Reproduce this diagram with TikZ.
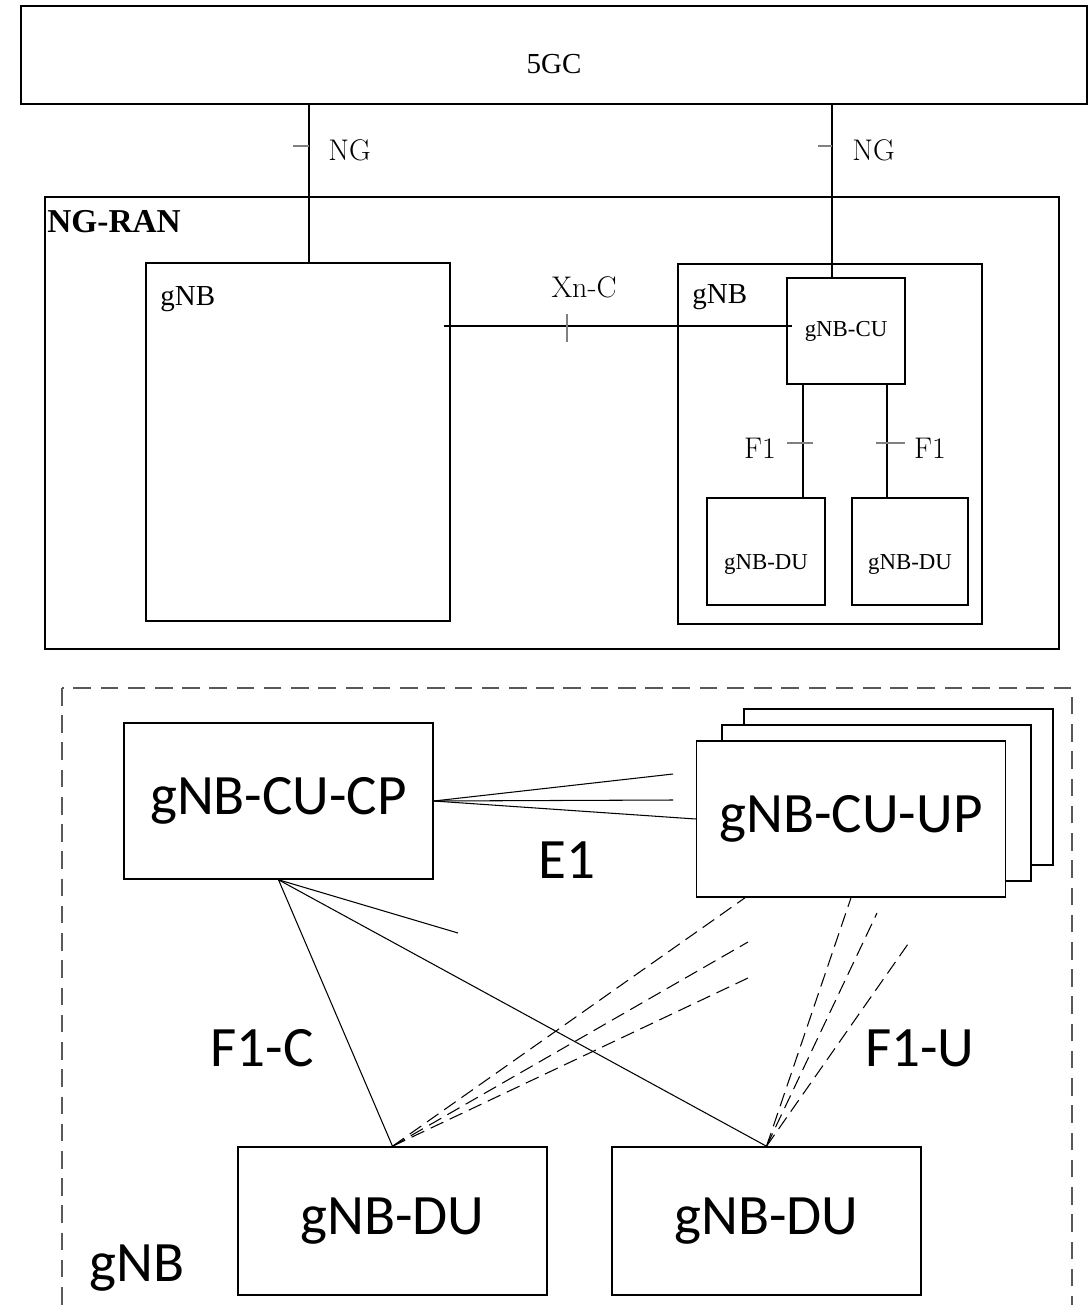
\documentclass[tikz,border=0pt]{standalone}
\usepackage{fontspec}
\newfontfamily\timesfont{Liberation Serif}
\newfontfamily\calibfont{Carlito}
\usetikzlibrary{positioning}

\begin{document}
\begin{tikzpicture}[x=0.02cm,y=-0.02cm,
        netbox/.style={draw,line width=0.9pt,fill=white,inner sep=0pt},
        serif/.style={font=\timesfont\fontsize{16.5}{18}\selectfont},
        small/.style={font=\timesfont\fontsize{13}{15}\selectfont},
        cmlabel/.style={inner sep=0pt,font=\fontsize{17}{19}\selectfont},
        big/.style={font=\calibfont\fontsize{32.5}{36}\selectfont},
        link/.style={line width=0.6pt},
        tick/.style={line width=0.8pt,gray},
        uplink/.style={line width=0.6pt,dash pattern=on 8pt off 4pt},
        frame/.style={line width=0.9pt,black!65,dash pattern=on 10pt off 5.5pt}]
    \useasboundingbox (0,0) rectangle (1091,1305);

    % 5GC and NG-RAN
    \node[netbox,serif,text height=21pt,minimum width=21.32cm,minimum height=1.96cm] (core) at (554,55) {5GC};
    \node[netbox,minimum width=20.28cm,minimum height=9.04cm] (ngran) at (552,423) {};
    \node[anchor=west,inner sep=0pt,font=\timesfont\bfseries\fontsize{19}{21}\selectfont] (ngranlbl) at (47,222) {NG-RAN};

    \node[netbox,minimum width=6.08cm,minimum height=7.16cm] (gnbA) at (298,442) {};
    \node[serif,anchor=west,inner sep=0pt] (gnbAlbl) at (160,299) {gNB};
    \node[netbox,minimum width=6.08cm,minimum height=7.2cm] (gnbB) at (830,444) {};
    \node[serif,anchor=west,inner sep=0pt] (gnbBlbl) at (692,297) {gNB};
    \node[netbox,small,minimum width=2.36cm,minimum height=2.12cm] (cu) at (846,331) {gNB-CU};
    \node[netbox,small,text height=22.8pt,minimum width=2.36cm,minimum height=2.14cm] (duA) at (766,551.5) {gNB-DU};
    \node[netbox,small,text height=22.8pt,minimum width=2.32cm,minimum height=2.14cm] (duB) at (910,551.5) {gNB-DU};

    % NG
    \coordinate (ngA) at (309,146);
    \coordinate (ngB) at (832,146);
    \draw[link] (core.south -| ngA) -- (gnbA.north -| ngA);
    \draw[link] (core.south -| ngB) -- (cu.north -| ngB);
    \draw[tick] (ngA) -- ++(-16,0);
    \draw[tick] (ngB) -- ++(-14,0);
    \node[cmlabel,right=0.38cm of ngA,yshift=-0.08cm] (ngAlbl) {NG};
    \node[cmlabel,right=0.4cm of ngB,yshift=-0.08cm] (ngBlbl) {NG};

    % Xn-C
    \coordinate (xn) at (567,326);
    \draw[link,shorten <=-0.14cm,shorten >=-0.12cm] (gnbA.east |- xn) -- (cu.west |- xn);
    \draw[tick] (xn) ++(0,-12) -- ++(0,28);
    \node[cmlabel] (xnlbl) at (584,287) {Xn-C};

    % F1
    \coordinate (f1A) at (803,443);
    \coordinate (f1B) at (887,443);
    \draw[link] (cu.south -| f1A) -- (duA.north -| f1A);
    \draw[link] (cu.south -| f1B) -- (duB.north -| f1B);
    \draw[tick] (f1A) ++(-16,0) -- ++(26,0);
    \draw[tick] (f1B) ++(-11,0) -- ++(29,0);
    \node[cmlabel] (f1Albl) at (760,448) {F1};
    \node[cmlabel] (f1Blbl) at (930,448) {F1};

    % split gNB
    \draw[frame] (62,688) rectangle (1072,1340);
    \node[big] (gnblbl) at (137,1268) {gNB};

    \node[netbox,big,minimum width=6.18cm,minimum height=3.12cm] (cp) at (278.5,801) {gNB-CU-CP};
    \node[netbox,minimum width=6.18cm,minimum height=3.12cm] (upC) at (898.5,787) {};
    \node[netbox,minimum width=6.18cm,minimum height=3.12cm] (upB) at (876.5,803) {};
    \node[netbox,big,minimum width=6.18cm,minimum height=3.12cm] (up) at (851,819) {gNB-CU-UP};
    \node[netbox,big,minimum width=6.18cm,minimum height=2.96cm] (duC) at (392.5,1221) {gNB-DU};
    \node[netbox,big,minimum width=6.18cm,minimum height=2.96cm] (duD) at (766.5,1221) {gNB-DU};

    % E1
    \coordinate (e1A) at (673,774);
    \coordinate (e1B) at (673,800);
    \draw[link] (cp.east) -- (e1A);
    \draw[link] (cp.east) -- (e1B);
    \draw[link] (cp.east) -- (up.west);
    \node[big] (e1lbl) at (567,860) {E1};

    % F1-C
    \coordinate (f1cS) at (458,933);
    \draw[link] (cp.south) -- (duC.north);
    \draw[link] (cp.south) -- (duD.north);
    \draw[link] (cp.south) -- (f1cS);
    \node[big] (f1clbl) at (262,1048) {F1-C};

    % F1-U
    \coordinate (upL) at (745,897);
    \coordinate (f1uA) at (748,942);
    \coordinate (f1uB) at (748,978);
    \coordinate (f1uC) at (877,913);
    \coordinate (f1uD) at (908,944);
    \draw[uplink] (duC.north) -- (up.south -| upL);
    \draw[uplink] (duC.north) -- (f1uA);
    \draw[uplink] (duC.north) -- (f1uB);
    \draw[uplink] (duD.north) -- (up.south);
    \draw[uplink] (duD.north) -- (f1uC);
    \draw[uplink] (duD.north) -- (f1uD);
    \node[big] (f1ulbl) at (920,1048) {F1-U};
\end{tikzpicture}
\end{document}
